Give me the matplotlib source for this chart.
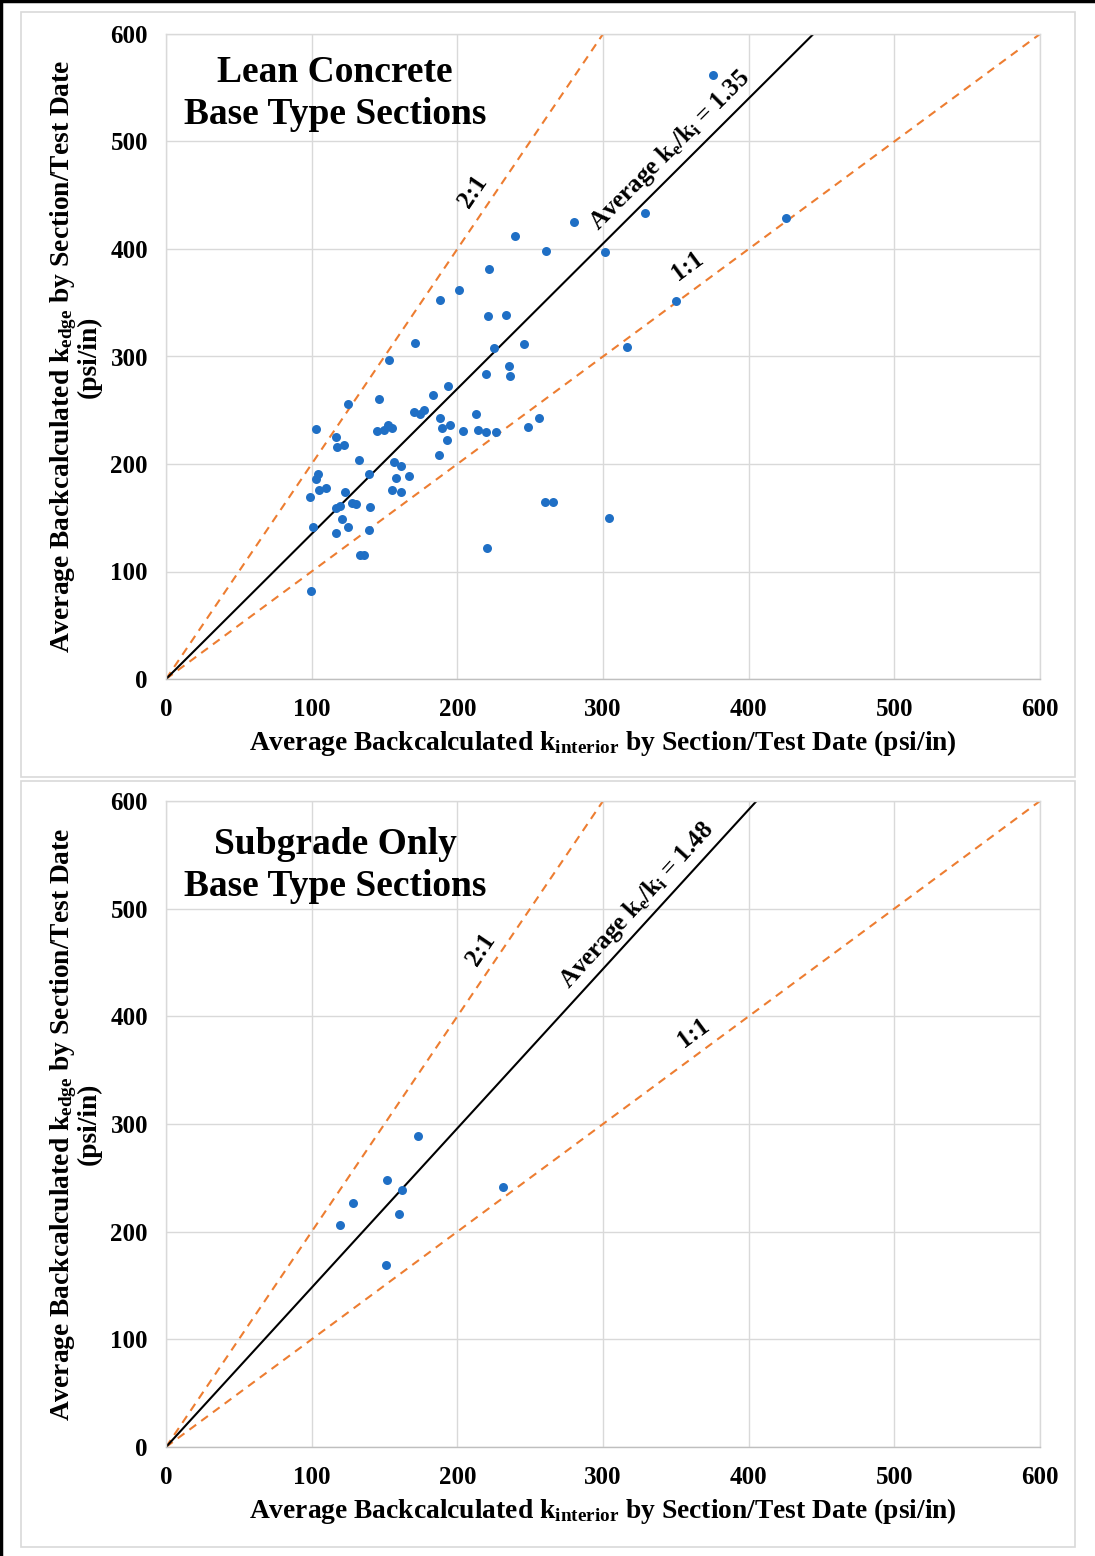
import numpy as np
import matplotlib
matplotlib.use("Agg")
from matplotlib import pyplot as plt
from matplotlib.patches import Rectangle
from matplotlib.lines import Line2D

plt.rcParams['font.family'] = ['Liberation Serif', 'DejaVu Serif']
plt.rcParams['font.weight'] = 'bold'
plt.rcParams['axes.labelweight'] = 'bold'
plt.rcParams['mathtext.fontset'] = 'custom'
plt.rcParams['mathtext.rm'] = 'Liberation Serif:bold'
plt.rcParams['mathtext.it'] = 'Liberation Serif:bold'
plt.rcParams['mathtext.bf'] = 'Liberation Serif:bold'

# Lean concrete base sections: average k interior vs k edge (psi/in)
lean_k_interior = [375.5, 425.6, 328.8, 280.1, 260.9, 301.4, 239.6, 221.7, 201.1, 188.1,
                   221.0, 233.4, 225.2, 245.8, 235.5, 236.2, 219.7, 153.0, 170.9, 316.5,
                   350.1, 125.0, 146.2, 183.3, 193.6, 103.0, 170.2, 174.4, 177.1, 188.1,
                   212.8, 256.1, 248.5, 189.4, 194.9, 203.9, 214.2, 219.7, 226.6, 193.0,
                   187.4, 144.8, 149.6, 152.4, 155.1, 116.7, 117.4, 122.2, 132.5, 139.4,
                   104.4, 103.0, 98.9, 105.1, 109.9, 123.0, 156.4, 161.3, 158.0, 166.9,
                   155.1, 161.3, 116.7, 119.4, 127.6, 130.4, 140.1, 120.8, 125.0, 116.7,
                   139.4, 133.0, 135.7, 100.9, 99.6, 220.4, 260.2, 265.7, 304.1]
lean_k_edge = [561.9, 428.8, 433.5, 425.1, 398.1, 397.2, 412.1, 381.4, 361.9, 352.6,
               337.7, 338.6, 307.9, 311.6, 291.2, 281.9, 283.7, 296.7, 312.6, 308.8,
               351.6, 255.8, 260.5, 264.2, 272.6, 232.6, 248.4, 246.5, 250.2, 242.8,
               246.5, 242.8, 234.4, 233.5, 236.3, 230.7, 231.6, 229.8, 229.8, 222.3,
               208.4, 230.7, 231.6, 236.3, 233.5, 225.1, 215.8, 217.7, 203.7, 190.7,
               190.7, 186.0, 169.3, 175.8, 177.7, 174.0, 201.9, 198.1, 187.0, 188.8,
               175.8, 174.0, 159.1, 160.9, 163.7, 162.8, 160.0, 148.8, 141.4, 135.8,
               138.6, 115.3, 115.3, 141.4, 81.9, 121.9, 164.7, 164.7, 149.8]

# Subgrade only sections
sub_k_interior = [119.4, 128.4, 151.7, 173.0, 162.0, 160.0, 151.0, 231.3]
sub_k_edge = [206.2, 226.6, 248.0, 288.9, 238.7, 216.4, 169.0, 241.5]

panels = [
    dict(name="Lean Concrete\nBase Type Sections", name_y=545, x=lean_k_interior,
         y=lean_k_edge, ratio=1.35, avg_pos=(346, 492), lbl21=(211, 453), lbl11=(358, 384)),
    dict(name="Subgrade Only\nBase Type Sections", name_y=540, x=sub_k_interior,
         y=sub_k_edge, ratio=1.48, avg_pos=(323, 503), lbl21=(216, 462), lbl11=(362, 385)),
]

W, H = 1095, 1556
fig = plt.figure(figsize=(W / 100, H / 100), dpi=100)

grid_col = '#d9d9d9'
orange = '#ED7D31'
blue = '#1F6FC5'

# (left, top, right, bottom) of plot areas in pixels
plot_boxes = [(166, 34, 1040, 679), (166, 801, 1040, 1447)]
chart_boxes = [(21, 12, 1075, 777), (21, 781, 1075, 1547)]

for p, (l, t, r, b), (cl, ct, cr, cb) in zip(panels, plot_boxes, chart_boxes):
    fig.patches.append(Rectangle((cl / W, 1 - cb / H), (cr - cl) / W, (cb - ct) / H,
                                 transform=fig.transFigure, fill=False,
                                 edgecolor=grid_col, linewidth=1.2))
    ax = fig.add_axes([l / W, 1 - b / H, (r - l) / W, (b - t) / H])
    ax.set_xlim(0, 600)
    ax.set_ylim(0, 600)
    ticks = np.arange(0, 601, 100)
    ax.set_xticks(ticks)
    ax.set_yticks(ticks)
    ax.grid(True, color=grid_col, linewidth=1.0)
    ax.set_axisbelow(True)
    for s in ax.spines.values():
        s.set_color(grid_col)
        s.set_linewidth(1.0)
    ax.spines['bottom'].set_color('#bfbfbf')
    ax.tick_params(length=0, labelsize=18, pad=13)
    ax.tick_params(axis='x', pad=14)

    xs = np.array([0, 600])
    ax.plot(xs, 2 * xs, color=orange, linestyle=(0, (4, 3)), linewidth=1.5, zorder=2)
    ax.plot(xs, xs, color=orange, linestyle=(0, (4, 3)), linewidth=1.5, zorder=2)
    ax.plot(xs, p['ratio'] * xs, color='black', linewidth=1.5, zorder=2)

    ax.scatter(p['x'], p['y'], s=42, color=blue, zorder=3, linewidths=0)

    ax.text(116, p['name_y'], p['name'], fontsize=27, fontweight='bold', ha='center',
            va='center', linespacing=1.25)

    ax.text(*p['lbl21'], "2:1", fontsize=18, rotation=np.degrees(np.arctan(2)),
            transform_rotates_text=True, ha='center', va='center', rotation_mode='anchor')
    ax.text(*p['lbl11'], "1:1", fontsize=18, rotation=45,
            transform_rotates_text=True, ha='center', va='center', rotation_mode='anchor')
    ax.text(*p['avg_pos'],
            "Average k$_{\\mathrm{e}}$/k$_{\\mathrm{i}}$ = " + f"{p['ratio']:.2f}",
            fontsize=18, rotation=np.degrees(np.arctan(p['ratio'])),
            transform_rotates_text=True, ha='center', va='center', rotation_mode='anchor')

    ax.set_xlabel("Average Backcalculated k$_{\\mathrm{interior}}$ by Section/Test Date (psi/in)",
                  fontsize=19.8, labelpad=5)
    ax.set_ylabel("Average Backcalculated k$_{\\mathrm{edge}}$ by Section/Test Date\n(psi/in)",
                  fontsize=19.8, labelpad=6, linespacing=0.9)

# outer frame along top and left edges
fig.add_artist(Line2D([0, 1], [1 - 1 / H, 1 - 1 / H], transform=fig.transFigure,
                      color='black', linewidth=2.5))
fig.add_artist(Line2D([1 / W, 1 / W], [0, 1], transform=fig.transFigure,
                      color='black', linewidth=2.5))

fig.savefig("out.png", dpi=100)
